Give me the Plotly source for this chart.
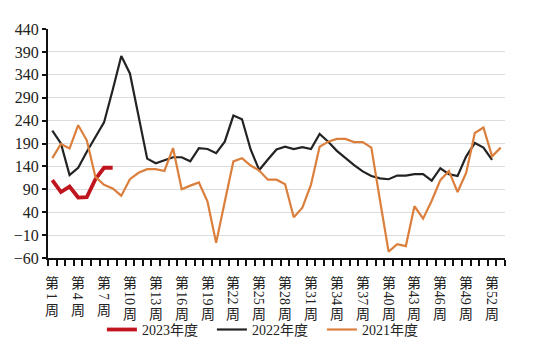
import plotly.graph_objects as go

# ---------------- data ----------------
weeks = list(range(1, 54))
label_weeks = list(range(1, 53, 3))          # 1,4,...,52
series_names = ["2023年度", "2022年度", "2021年度"]

y2023 = [110, 84, 96, 72, 73, 112, 137, 137]

y2022 = [218, 190, 121, 137, 172, 205, 236, 307, 381, 343,
         249, 157, 147, 153, 160, 160, 151, 180, 178, 169,
         194, 251, 243, 177, 132, 155, 177, 183, 178, 182,
         178, 211, 194, 174, 158, 143, 129, 119, 114, 112,
         120, 120, 123, 123, 109, 136, 123, 119, 162, 191,
         181, 154]

y2021 = [158, 189, 179, 230, 197, 117, 100, 92, 76, 112,
         126, 134, 134, 130, 180, 90, 98, 105, 63, -27,
         63, 151, 158, 142, 131, 111, 111, 101, 29, 50,
         100, 183, 194, 200, 200, 193, 193, 181, 66, -46,
         -30, -34, 53, 26, 65, 110, 130, 84, 126, 213,
         225, 162, 181]

ytick_vals = list(range(-60, 441, 50))

# ---------------- style ----------------
FONT = "Liberation Serif, 'Noto Sans CJK SC', serif"
colors = ["#C0141E", "#232323", "#DB7F3D"]
widths = [3.8, 2.2, 2.2]

fig = go.Figure()
for name, ys, c, w in zip(series_names, [y2023, y2022, y2021], colors, widths):
    fig.add_trace(go.Scatter(
        x=weeks[:len(ys)], y=ys, mode="lines", name=name,
        line=dict(color=c, width=w), cliponaxis=False))

# boundaries between weekly categories for tick marks
bounds = [w - 0.5 for w in weeks] + [weeks[-1] + 0.5]

fig.update_xaxes(
    range=[weeks[0] - 0.5, weeks[-1] + 0.5],
    tickvals=bounds, showticklabels=False,
    ticks="outside", ticklen=6, tickwidth=1.5, tickcolor="#111",
    showline=True, linecolor="#111", linewidth=2,
    showgrid=False, zeroline=False, fixedrange=True)

fig.update_yaxes(
    range=[ytick_vals[0], ytick_vals[-1]],
    tickvals=ytick_vals,
    ticks="outside", ticklen=4, tickwidth=1.5, tickcolor="#111",
    showline=True, linecolor="#111", linewidth=2,
    showgrid=True, gridcolor="#dcdcdc", gridwidth=1.3,
    zeroline=False,
    tickfont=dict(family=FONT, size=16, color="#222"),
    fixedrange=True)

# vertical (stacked) week labels
lab_font = dict(family=FONT, size=14, color="#222")
for w in label_weeks:
    num = str(w)
    two = len(num) > 1
    fig.add_annotation(x=w, y=0, xref="x", yref="paper", text="第",
                       showarrow=False, yanchor="middle", yshift=-25,
                       font=lab_font, borderpad=0)
    fig.add_annotation(x=w, y=0, xref="x", yref="paper", text=num,
                       showarrow=False, yanchor="middle", textangle=90,
                       yshift=-40 if two else -38, font=lab_font,
                       borderpad=0)
    fig.add_annotation(x=w, y=0, xref="x", yref="paper", text="周",
                       showarrow=False, yanchor="middle",
                       yshift=-56 if two else -52, font=lab_font,
                       borderpad=0)

fig.update_layout(
    width=550, height=346,
    margin=dict(l=48, r=45, t=29, b=88, autoexpand=False),
    paper_bgcolor="white", plot_bgcolor="white",
    showlegend=True,
    legend=dict(orientation="h", x=0.479, xanchor="center",
                y=-0.314, yanchor="middle",
                font=dict(family=FONT, size=14, color="#222"),
                entrywidth=65, entrywidthmode="pixels",
                itemwidth=30, tracegroupgap=0,
                bgcolor="rgba(0,0,0,0)"),
    font=dict(family=FONT),
)

fig.write_html("out.html")
